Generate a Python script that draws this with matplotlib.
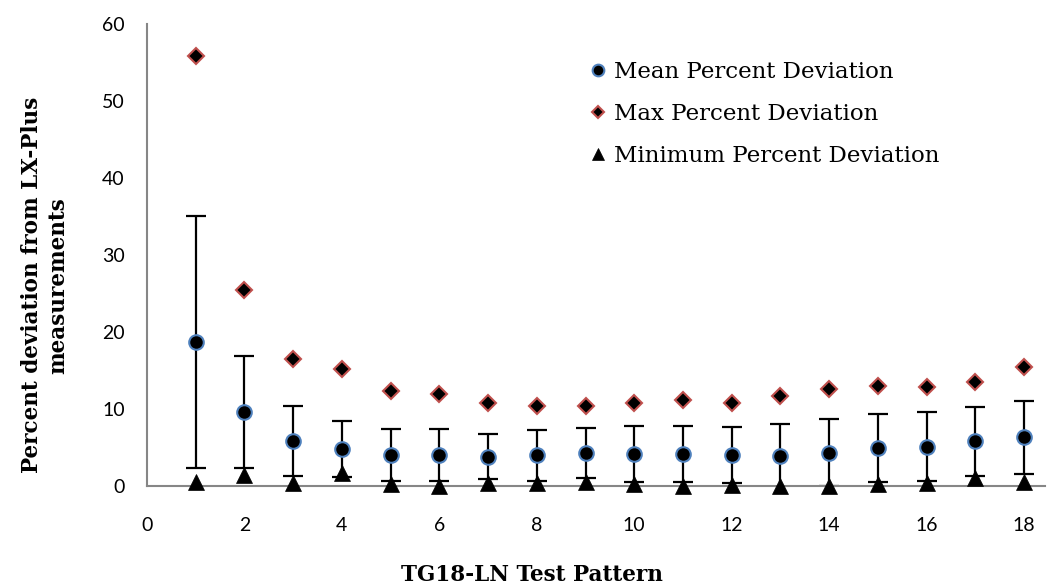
import matplotlib.pyplot as plt

# TG18-LN pattern number and deviation statistics (percent)
pattern = list(range(1, 19))
mean_dev = [18.7, 9.65, 5.9, 4.8, 4.0, 4.0, 3.8, 4.0, 4.25, 4.15, 4.15, 4.0,
            3.95, 4.3, 4.95, 5.1, 5.8, 6.3]
mean_err = [16.4, 7.25, 4.55, 3.6, 3.4, 3.4, 2.95, 3.3, 3.25, 3.65, 3.6, 3.65,
            4.05, 4.35, 4.4, 4.45, 4.45, 4.7]
max_dev = [55.8, 25.5, 16.45, 15.2, 12.3, 11.9, 10.8, 10.4, 10.4, 10.8, 11.2, 10.8,
           11.7, 12.65, 13.0, 12.9, 13.45, 15.5]
min_dev = [0.5, 1.4, 0.4, 1.7, 0.3, 0.05, 0.4, 0.4, 0.55, 0.25, 0.0, 0.1,
           0.0, 0.0, 0.2, 0.35, 1.0, 0.55]

serif = 'DejaVu Serif'
sans = 'Lato'

fig = plt.figure(figsize=(10.47, 5.88), dpi=100)
ax = fig.add_axes([0.1404, 0.1735, 0.8577, 0.7855])

ax.errorbar(pattern, mean_dev, yerr=mean_err, fmt='none', ecolor='black',
            elinewidth=1.6, capsize=7, capthick=1.6, zorder=2)
ax.plot(pattern, mean_dev, 'o', ms=10.5, mfc='black', mec='#4F81BD', mew=1.5,
        ls='none', zorder=3, clip_on=False, label='Mean Percent Deviation')
ax.plot(pattern, max_dev, 'D', ms=8, mfc='black', mec='#C0504D', mew=1.5,
        ls='none', zorder=3, clip_on=False, label='Max Percent Deviation')
ax.plot(pattern, min_dev, '^', ms=11, mfc='black', mec='black', mew=0.5,
        ls='none', zorder=4, clip_on=False, label='Minimum Percent Deviation')

ax.set_xlim(0, 18.43)
ax.set_ylim(0, 60)
ax.set_xticks(range(0, 19, 2))
ax.set_yticks(range(0, 61, 10))
ax.tick_params(length=0, labelsize=14, colors='black')
ax.tick_params(axis='x', pad=22)
ax.tick_params(axis='y', pad=16)
for lab in ax.get_xticklabels() + ax.get_yticklabels():
    lab.set_fontfamily(sans)

for side in ['top', 'right']:
    ax.spines[side].set_visible(False)
for side in ['left', 'bottom']:
    ax.spines[side].set_color('#868686')
    ax.spines[side].set_linewidth(1.5)

# axis titles placed in figure coordinates
fig.text(0.508, 0.022, 'TG18-LN Test Pattern', family=serif, fontweight='bold',
         fontsize=15.5, ha='center', va='center')
fig.text(0.043, 0.515, 'Percent deviation from LX-Plus\nmeasurements', family=serif,
         fontweight='bold', fontsize=15.5, ha='center', va='center',
         rotation=90, linespacing=1.25)

ax.legend(loc='upper left', bbox_to_anchor=(0.472, 0.965), frameon=False,
          prop={'family': serif, 'size': 16.5}, handlelength=0.6,
          handletextpad=0.4, labelspacing=0.88, markerscale=0.8)

fig.savefig('out.png', dpi=100)
